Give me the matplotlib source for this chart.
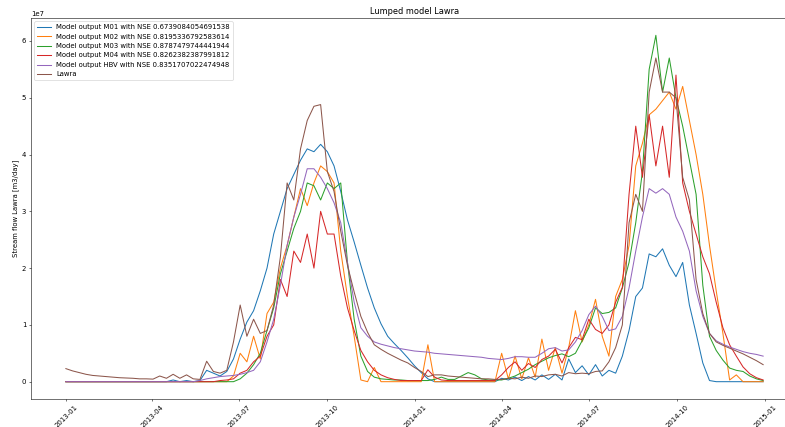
import matplotlib
matplotlib.use("Agg")
import matplotlib.pyplot as plt
import matplotlib.dates as mdates
import numpy as np
import pandas as pd

# weekly samples (stream flow, in 1e6 m3/day)
dates = pd.date_range("2013-01-01", "2014-12-31", freq="7D")

lawra = [2.3, 1.9, 1.6, 1.3, 1.1, 1.0, 0.9, 0.8, 0.7, 0.65,
         0.6, 0.5, 0.5, 0.45, 1.0, 0.6, 1.3, 0.6, 1.2, 0.5,
         0.4, 3.6, 1.8, 1.5, 2.0, 7.0, 13.5, 8.0, 11.0, 8.5,
         9.0, 13.5, 22.0, 35.0, 32.0, 41.0, 46.0, 48.5, 48.8, 37.0,
         33.5, 26.5, 20.5, 15.8, 11.5, 8.7, 6.5, 5.7, 5.0, 4.4,
         3.8, 3.3, 2.5, 1.8, 0.9, 1.2, 1.2, 1.0, 0.9, 0.8,
         0.7, 0.6, 0.5, 0.5, 0.4, 0.4, 0.6, 0.5, 0.8, 0.6,
         1.0, 0.9, 1.2, 1.3, 1.0, 1.6, 1.4, 1.5, 1.4, 1.8,
         1.9, 3.5, 6.0, 10.0, 28.0, 33.0, 30.0, 51.0, 57.0, 51.0,
         51.0, 50.0, 36.0, 32.0, 18.0, 12.0, 8.5, 7.0, 6.4, 5.9,
         5.4, 4.9, 4.3, 3.7, 3.0]

m01 = [0, 0, 0, 0, 0, 0, 0, 0, 0, 0,
       0, 0, 0, 0, 0, 0, 0.3, 0, 0.2, 0,
       0.2, 2.0, 1.5, 1.0, 1.8, 4.0, 7.5, 10.5, 12.5, 16.0,
       20.0, 26.0, 30.0, 34.0, 36.5, 39.0, 41.0, 40.5, 41.8, 40.5,
       38.0, 33.5, 28.5, 24.6, 20.5, 16.5, 13.0, 10.2, 8.0, 6.7,
       5.5, 4.2, 2.8, 1.6, 0.5, 0, 0, 0, 0, 0,
       0, 0, 0, 0, 0, 0.6, 0.3, 0.8, 0.2, 0.9,
       0.3, 1.2, 0.4, 1.3, 0.3, 4.0, 1.6, 2.8, 1.2, 3.0,
       1.0, 2.0, 1.5, 4.5, 9.0, 15.0, 16.5, 22.5, 22.0, 23.4,
       20.5, 18.5, 21.0, 13.5, 8.5, 3.3, 0.2, 0, 0, 0,
       0, 0, 0, 0, 0]

m02 = [0, 0, 0, 0, 0, 0, 0, 0, 0, 0,
       0, 0, 0, 0, 0, 0, 0, 0, 0, 0,
       0, 0, 0, 0, 0, 1.0, 5.0, 3.5, 8.0, 4.0,
       12.0, 14.0, 20.0, 24.0, 29.0, 34.0, 31.0, 35.0, 38.0, 37.0,
       35.0, 23.0, 15.0, 8.0, 0.3, 0, 2.5, 0, 0, 0,
       0, 0, 0, 0, 6.5, 0, 0, 0, 0, 0,
       0, 0, 0, 0, 0, 5.0, 0.5, 4.5, 0.5, 4.2,
       0.8, 7.5, 2.0, 6.0, 1.5, 6.0, 12.5, 7.0, 10.0, 14.5,
       8.0, 4.5, 15.0, 18.0, 24.0, 38.0, 42.0, 47.0, 48.0, 49.5,
       51.0, 48.0, 52.0, 46.0, 40.0, 33.0, 24.0, 16.0, 8.5, 0.3,
       1.2, 0, 0, 0, 0]

m03 = [0, 0, 0, 0, 0, 0, 0, 0, 0, 0,
       0, 0, 0, 0, 0, 0, 0, 0, 0, 0,
       0, 0, 0, 0, 0, 0, 0.5, 1.5, 3.0, 5.0,
       9.0, 13.0, 19.0, 23.0, 27.0, 30.0, 35.0, 34.5, 32.0, 35.0,
       34.0, 35.0, 21.0, 11.0, 4.5, 1.8, 0.8, 0.5, 0.4, 0.3,
       0.3, 0.2, 0.2, 0.2, 0.2, 0.4, 0.8, 0.4, 0.4, 1.0,
       1.6, 1.2, 0.5, 0.3, 0.3, 0.3, 0.6, 1.0, 1.6, 2.2,
       3.0, 3.6, 4.2, 4.6, 4.9, 4.4, 5.0, 7.2, 9.5, 13.0,
       12.0, 12.2, 13.0, 16.5, 21.0, 28.0, 37.0, 55.0, 61.0, 51.0,
       57.0, 50.0, 45.0, 39.0, 33.0, 17.0, 8.0, 5.5, 3.8, 2.4,
       2.0, 1.8, 1.0, 0.5, 0.2]

m04 = [0, 0, 0, 0, 0, 0, 0, 0, 0, 0,
       0, 0, 0, 0, 0, 0, 0, 0, 0, 0,
       0, 0, 0, 0.2, 0.3, 0.5, 1.5, 2.0, 3.5, 4.5,
       8.0, 10.0, 18.0, 15.0, 23.0, 21.0, 26.0, 20.0, 30.0, 26.0,
       26.0, 18.6, 13.0, 9.0, 5.5, 3.5, 2.0, 1.2, 0.7, 0.4,
       0.2, 0.2, 0.2, 0.2, 2.1, 0.8, 0.3, 0.2, 0.2, 0.2,
       0.2, 0.2, 0.2, 0.2, 0.2, 1.2, 2.5, 3.5, 2.0, 3.2,
       2.5, 3.9, 4.5, 5.7, 3.3, 6.0, 7.8, 7.4, 11.0, 9.2,
       8.5, 10.0, 14.0, 16.6, 33.0, 45.0, 36.0, 47.0, 38.0, 45.0,
       36.0, 54.0, 35.0, 30.0, 26.0, 22.0, 19.0, 14.0, 9.5, 6.5,
       4.5, 2.6, 1.4, 0.7, 0.3]

hbv = [0, 0, 0, 0, 0, 0, 0, 0, 0, 0,
       0, 0, 0, 0, 0, 0, 0, 0, 0, 0,
       0.2, 0.5, 0.7, 0.9, 1.0, 1.1, 1.3, 1.6, 2.0, 3.5,
       7.0, 11.0, 17.0, 24.0, 29.0, 33.0, 37.5, 37.5, 36.0, 34.0,
       31.5, 28.0, 21.0, 14.0, 9.5, 8.0, 7.0, 6.6, 6.3, 6.0,
       5.8, 5.6, 5.4, 5.3, 5.2, 5.0, 4.9, 4.8, 4.7, 4.6,
       4.5, 4.4, 4.3, 4.1, 4.0, 3.9, 4.1, 4.4, 4.4, 4.3,
       4.3, 5.0, 5.8, 6.0, 5.4, 5.6, 7.0, 9.0, 11.8, 13.3,
       11.5, 9.0, 9.3, 11.5, 16.5, 23.0, 29.0, 34.0, 33.2, 34.0,
       33.0, 29.0, 26.5, 23.0, 16.0, 11.5, 8.5, 7.2, 6.6, 6.1,
       5.7, 5.3, 5.0, 4.8, 4.5]

models = ["M01", "M02", "M03", "M04", "HBV"]
nse = ["0.6739084054691538", "0.8195336792583614", "0.8787479744441944",
       "0.8262382387991812", "0.8351707022474948"]
series = [m01, m02, m03, m04, hbv]

# the reference is a big default figure scaled down, so render at a low dpi
DPI = 49.5
fig = plt.figure(figsize=(785 / DPI, 427 / DPI), dpi=DPI)
ax = fig.add_axes([31 / 785, 28 / 427, 767 / 785, 381 / 427])

for name, score, vals in zip(models, nse, series):
    ax.plot(dates, np.array(vals) * 1e6,
            label=f"Model output {name} with NSE {score}")
ax.plot(dates, np.array(lawra) * 1e6, label="Lawra")

ax.xaxis.set_major_locator(mdates.MonthLocator(bymonth=[1, 4, 7, 10]))
ax.xaxis.set_major_formatter(mdates.DateFormatter("%Y-%m"))
plt.setp(ax.get_xticklabels(), rotation=45)

ax.set_title("Lumped model Lawra")
ax.set_ylabel("Stream flow Lawra [m3/day]")
ax.legend(loc="upper left")

fig.savefig("out.png", dpi=DPI)
